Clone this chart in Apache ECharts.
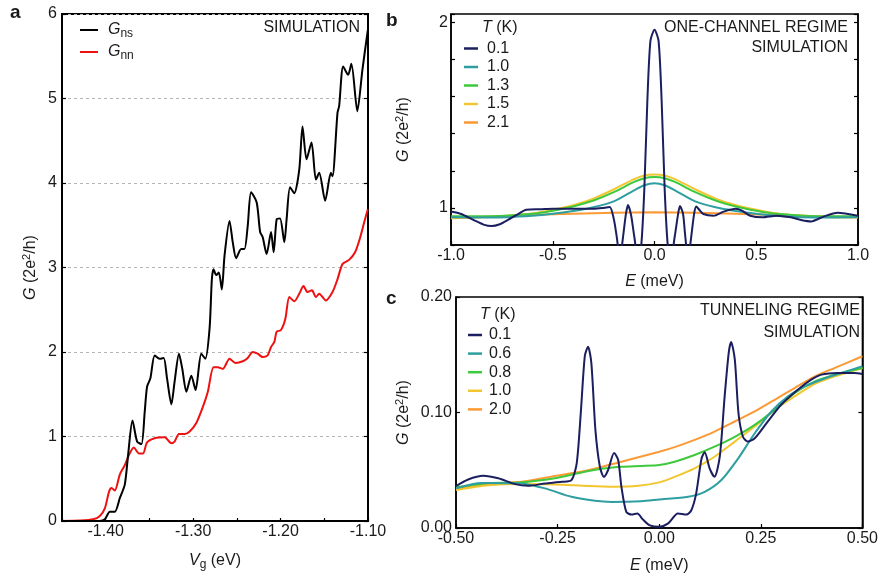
<!DOCTYPE html>
<html>
<head>
<meta charset="utf-8">
<script src="https://cdn.jsdelivr.net/npm/echarts@6/dist/echarts.min.js"></script>
<style>
  html, body { margin: 0; background: #ffffff; }
  #main { width: 881px; height: 576px; }
</style>
</head>
<body>
<div id="main"></div>
<script>
// panel a: G vs Vg (eV)
var gns = [[-1.450,0],[-1.420,0],[-1.407,0],[-1.401,0.02],[-1.3953,0.11],[-1.3896,0.11],[-1.3839,0.27],[-1.3782,0.43],[-1.3744,0.78],[-1.3694,1.19],[-1.3641,0.94],[-1.3591,0.91],[-1.3554,1.29],[-1.3527,1.59],[-1.3489,1.69],[-1.3440,1.96],[-1.3383,1.92],[-1.3337,1.93],[-1.3299,1.69],[-1.3249,1.38],[-1.3212,1.65],[-1.3162,1.98],[-1.3124,1.80],[-1.3078,1.53],[-1.3021,1.72],[-1.2972,1.55],[-1.2907,1.98],[-1.2861,1.92],[-1.2812,2.28],[-1.2786,2.86],[-1.2767,2.98],[-1.2736,2.91],[-1.2706,2.94],[-1.2672,2.74],[-1.2641,3.14],[-1.2584,3.55],[-1.2547,3.30],[-1.2508,3.11],[-1.2451,3.22],[-1.2413,3.22],[-1.2376,3.49],[-1.2337,3.89],[-1.2273,3.77],[-1.2234,3.42],[-1.2205,3.36],[-1.2159,3.16],[-1.2109,3.42],[-1.2079,3.18],[-1.2045,3.57],[-1.2006,3.58],[-1.1957,3.30],[-1.1931,3.57],[-1.1892,3.95],[-1.1843,3.88],[-1.1786,4.16],[-1.1749,4.67],[-1.1703,4.28],[-1.1646,4.48],[-1.1596,4.04],[-1.1558,4.12],[-1.1490,3.79],[-1.1425,4.12],[-1.1406,4.08],[-1.1349,4.83],[-1.1330,4.91],[-1.1284,5.38],[-1.1227,5.28],[-1.1190,5.41],[-1.1122,4.85],[-1.1064,5.34],[-1.1002,5.81]];
var gnn = [[-1.450,0],[-1.4295,0.005],[-1.4143,0.02],[-1.4067,0.06],[-1.401,0.15],[-1.3961,0.35],[-1.3933,0.39],[-1.3896,0.36],[-1.3839,0.55],[-1.3782,0.66],[-1.3725,0.80],[-1.3679,0.87],[-1.3619,0.80],[-1.3573,0.80],[-1.3527,0.93],[-1.3440,0.98],[-1.3326,0.99],[-1.3249,0.92],[-1.3212,0.94],[-1.3162,1.03],[-1.3097,1.03],[-1.3040,1.06],[-1.2964,1.16],[-1.2889,1.35],[-1.2832,1.53],[-1.2767,1.82],[-1.2718,1.82],[-1.2661,1.80],[-1.2584,1.92],[-1.2516,1.87],[-1.2433,1.89],[-1.2376,1.93],[-1.2319,2.00],[-1.2262,1.98],[-1.2205,1.94],[-1.2148,1.96],[-1.2109,2.06],[-1.2071,2.12],[-1.2045,2.24],[-1.1995,2.26],[-1.1946,2.39],[-1.1900,2.65],[-1.1843,2.60],[-1.1786,2.69],[-1.1737,2.78],[-1.1692,2.71],[-1.1641,2.73],[-1.1596,2.65],[-1.1558,2.69],[-1.1482,2.61],[-1.1406,2.71],[-1.1349,2.86],[-1.1292,3.04],[-1.1216,3.09],[-1.1148,3.18],[-1.1094,3.34],[-1.1045,3.53],[-1.1002,3.69]];

// panel b: one-channel regime, G vs E (meV)
var b01 = [[-1.0,0.98],[-0.95,0.967],[-0.89,0.935],[-0.84,0.91],[-0.80,0.902],[-0.76,0.912],[-0.72,0.935],[-0.67,0.967],[-0.63,0.99],[-0.56,0.993],[-0.50,0.996],[-0.40,0.995],[-0.30,0.995],[-0.25,1.0],[-0.22,1.005],[-0.20,0.94],[-0.185,0.84],[-0.17,0.72],[-0.155,0.84],[-0.14,0.97],[-0.13,1.015],[-0.115,0.96],[-0.10,0.85],[-0.08,0.72],[-0.065,0.80],[-0.05,1.10],[-0.035,1.58],[-0.02,1.90],[0.0,1.96],[0.02,1.90],[0.035,1.58],[0.05,1.10],[0.065,0.80],[0.08,0.72],[0.10,0.85],[0.115,0.96],[0.125,1.01],[0.14,0.97],[0.15,0.86],[0.165,0.72],[0.18,0.84],[0.195,0.97],[0.205,1.007],[0.22,0.99],[0.24,0.967],[0.29,0.958],[0.34,0.98],[0.40,0.995],[0.43,0.985],[0.47,0.958],[0.53,0.949],[0.60,0.958],[0.67,0.949],[0.72,0.935],[0.77,0.927],[0.83,0.953],[0.90,0.974],[1.0,0.958]];
var b10 = [[-1.0,0.95],[-0.8,0.948],[-0.6,0.958],[-0.5,0.968],[-0.4,0.983],[-0.3,1.003],[-0.2,1.035],[-0.1,1.095],[-0.05,1.122],[0,1.133],[0.05,1.122],[0.1,1.095],[0.2,1.035],[0.3,1.003],[0.4,0.983],[0.5,0.968],[0.6,0.958],[0.8,0.948],[1.0,0.95]];
var b13 = [[-1.0,0.955],[-0.8,0.955],[-0.6,0.968],[-0.5,0.985],[-0.4,1.008],[-0.3,1.04],[-0.2,1.085],[-0.1,1.14],[-0.05,1.16],[0,1.166],[0.05,1.16],[0.1,1.14],[0.2,1.085],[0.3,1.04],[0.4,1.008],[0.5,0.985],[0.6,0.968],[0.8,0.955],[1.0,0.955]];
var b15 = [[-1.0,0.945],[-0.8,0.952],[-0.6,0.97],[-0.5,0.99],[-0.4,1.015],[-0.3,1.05],[-0.2,1.10],[-0.1,1.155],[-0.05,1.175],[0,1.18],[0.05,1.175],[0.1,1.155],[0.2,1.10],[0.3,1.05],[0.4,1.015],[0.5,0.99],[0.6,0.97],[0.8,0.952],[1.0,0.948]];
var b21 = [[-1.0,0.944],[-0.8,0.953],[-0.6,0.962],[-0.4,0.968],[-0.2,0.974],[0,0.976],[0.2,0.974],[0.4,0.968],[0.6,0.962],[0.8,0.955],[1.0,0.95]];

// panel c: tunneling regime, G vs E (meV)
var c01 = [[-0.5,0.0363],[-0.47,0.042],[-0.433,0.0452],[-0.396,0.043],[-0.355,0.038],[-0.322,0.0365],[-0.281,0.0386],[-0.24,0.040],[-0.216,0.0415],[-0.203,0.056],[-0.193,0.0995],[-0.183,0.149],[-0.175,0.157],[-0.167,0.143],[-0.157,0.085],[-0.146,0.053],[-0.136,0.0443],[-0.126,0.050],[-0.111,0.065],[-0.101,0.0589],[-0.093,0.0357],[-0.081,0.0139],[-0.068,0.0116],[-0.054,0.0125],[-0.040,0.0073],[-0.023,0.0023],[0,0.001],[0.022,0.004],[0.046,0.0125],[0.067,0.0116],[0.079,0.0154],[0.091,0.030],[0.104,0.060],[0.112,0.0656],[0.124,0.0517],[0.136,0.0443],[0.149,0.0617],[0.161,0.114],[0.171,0.1517],[0.177,0.161],[0.186,0.1458],[0.195,0.0995],[0.206,0.079],[0.218,0.0748],[0.235,0.0777],[0.267,0.0922],[0.300,0.1067],[0.341,0.1197],[0.374,0.1284],[0.399,0.1328],[0.439,0.1342],[0.480,0.1342],[0.5,0.1334]];
var c06 = [[-0.5,0.0343],[-0.437,0.039],[-0.339,0.0386],[-0.281,0.0343],[-0.216,0.027],[-0.158,0.0235],[-0.117,0.0226],[-0.044,0.0232],[0,0.0247],[0.071,0.027],[0.112,0.0313],[0.153,0.0415],[0.194,0.060],[0.235,0.082],[0.276,0.1009],[0.317,0.114],[0.358,0.1226],[0.399,0.1284],[0.448,0.1342],[0.5,0.140]];
var c08 = [[-0.5,0.0352],[-0.42,0.039],[-0.34,0.0395],[-0.257,0.043],[-0.208,0.0467],[-0.15,0.0508],[-0.093,0.053],[-0.044,0.0537],[0,0.0545],[0.038,0.0574],[0.087,0.0632],[0.136,0.0704],[0.186,0.079],[0.235,0.0893],[0.284,0.1023],[0.333,0.1168],[0.383,0.127],[0.432,0.1328],[0.5,0.1386]];
var c10 = [[-0.5,0.0328],[-0.42,0.037],[-0.34,0.038],[-0.257,0.0377],[-0.175,0.0363],[-0.109,0.0357],[-0.052,0.0365],[0,0.0395],[0.038,0.0443],[0.087,0.0517],[0.136,0.0617],[0.186,0.0748],[0.235,0.0878],[0.284,0.1023],[0.333,0.1139],[0.383,0.1247],[0.432,0.1313],[0.5,0.1386]];
var c20 = [[-0.5,0.0334],[-0.42,0.038],[-0.339,0.040],[-0.257,0.045],[-0.175,0.050],[-0.093,0.0574],[0,0.066],[0.038,0.070],[0.087,0.0763],[0.136,0.0835],[0.186,0.0922],[0.235,0.1009],[0.284,0.111],[0.333,0.1212],[0.383,0.1313],[0.432,0.1386],[0.5,0.1487]];

var font = 'Liberation Sans, Arial, sans-serif';
var ink = '#1a1a1a';
var navy = '#1b1f5f', teal = '#2e9ea0', green = '#3ec83c', yellow = '#f2c62e', orange = '#fb9a35';

var rich = {
    i: {fontStyle: 'italic', fontSize: 16, fontFamily: font, color: ink, lineHeight: 20},
    n: {fontSize: 16, fontFamily: font, color: ink, lineHeight: 20},
    s: {fontSize: 12, fontFamily: font, color: ink, lineHeight: 20, verticalAlign: 'bottom'},
    p: {fontSize: 11, fontFamily: font, color: ink, lineHeight: 20, verticalAlign: 'top'}
};
var gName = '{i|G}{n| (2e}{p|2}{n|/h)}';

function xAxisCfg(grid, min, max, step, digits, name, gap, width) {
    return {
        type: 'value', gridIndex: grid, position: 'bottom',
        min: min, max: max, interval: step,
        name: name, nameLocation: 'middle', nameGap: gap,
        nameTextStyle: {rich: rich},
        axisLine: {show: true, onZero: false, lineStyle: {color: '#000', width: width}},
        axisTick: {show: true, inside: true, length: 4, lineStyle: {color: '#000', width: 1.2}},
        axisLabel: {
            color: ink, fontSize: 16, fontFamily: font, margin: 3,
            showMinLabel: true, showMaxLabel: true,
            formatter: function (v) { return v.toFixed(digits); }
        },
        splitLine: {show: false}
    };
}

function yAxisCfg(grid, min, max, step, fmt, name, gap, width, margin) {
    return {
        type: 'value', gridIndex: grid, position: 'left',
        min: min, max: max, interval: step,
        name: name, nameLocation: 'middle', nameGap: gap, nameRotate: 90,
        nameTextStyle: {rich: rich},
        axisLine: {show: true, onZero: false, lineStyle: {color: '#000', width: width}},
        axisTick: {show: true, inside: true, length: 4, lineStyle: {color: '#000', width: 1.2}},
        axisLabel: {color: ink, fontSize: 16, fontFamily: font, margin: margin, formatter: fmt},
        splitLine: {show: false}
    };
}

function rightAxis(grid, min, max, step, width) {
    return {
        type: 'value', gridIndex: grid, position: 'right',
        min: min, max: max, interval: step,
        axisLine: {show: true, onZero: false, lineStyle: {color: '#000', width: width}},
        axisTick: {show: true, inside: true, length: 4, lineStyle: {color: '#000', width: 1.2}},
        axisLabel: {show: false},
        splitLine: {show: false}
    };
}

function line(name, data, color, xi, yi) {
    return {
        name: name, type: 'line', data: data, xAxisIndex: xi, yAxisIndex: yi,
        showSymbol: false, symbol: 'none', smooth: 0.25,
        color: color, lineStyle: {color: color, width: 2}
    };
}

var xa = xAxisCfg(0, -1.45, -1.10, 0.05, 2, '{i|V}{s|g}{n| (eV)}', 30, 2);
xa.axisTick.length = 3;
xa.axisLabel.formatter = function (v) {
    return Math.round(v * 100) % 10 === 0 ? v.toFixed(2) : '';
};

var ya = yAxisCfg(0, 0, 6, 1, null, gName, 21, 2, 5);
ya.splitLine = {show: true, lineStyle: {color: '#b4b4b4', type: [3, 3], width: 1}};

var yb = yAxisCfg(1, 0.8, 2.045, 0.2, function (v) {
    if (Math.abs(v - 1) < 1e-6) return '1';
    if (Math.abs(v - 2) < 1e-6) return '2';
    return '';
}, gName, 37, 1.5, 3);

var yc = yAxisCfg(2, 0, 0.2, 0.1, function (v) { return v.toFixed(2); }, gName, 42, 1.5, 4);

function txt(x, y, text, align, size, weight) {
    return {
        type: 'text', x: x, y: y, z: 100,
        style: {
            text: text, fill: ink, fontSize: size, fontFamily: font,
            fontWeight: weight || 'normal', align: align, verticalAlign: 'middle', rich: rich
        }
    };
}

var option = {
    animation: false,
    backgroundColor: '#ffffff',
    textStyle: {fontFamily: font},
    grid: [
        {left: 62, top: 14, width: 306, height: 509, show: true, borderColor: '#000', borderWidth: 2, containLabel: false},
        {left: 451, top: 14, width: 407, height: 231, show: true, borderColor: '#000', borderWidth: 1.5, containLabel: false},
        {left: 456, top: 297, width: 407, height: 231, show: true, borderColor: '#000', borderWidth: 1.5, containLabel: false}
    ],
    xAxis: [
        xa,
        xAxisCfg(1, -1, 1, 0.5, 1, '{i|E}{n| (meV)}', 27, 1.5),
        xAxisCfg(2, -0.5, 0.5, 0.25, 2, '{i|E}{n| (meV)}', 28, 1.5)
    ],
    yAxis: [
        ya, rightAxis(0, 0, 6, 1, 2),
        yb, rightAxis(1, 0.8, 2.045, 0.2, 1.5),
        yc, rightAxis(2, 0, 0.2, 0.1, 1.5)
    ],
    legend: [
        {
            data: ['Gns', 'Gnn'], orient: 'vertical', left: 75, top: 17,
            icon: 'rect', itemWidth: 18, itemHeight: 2, itemGap: 4,
            formatter: function (n) { return n === 'Gns' ? '{i|G}{s|ns}' : '{i|G}{s|nn}'; },
            textStyle: {rich: rich, padding: [0, 0, 0, 5]}
        },
        {
            data: ['b0.1', 'b1.0', 'b1.3', 'b1.5', 'b2.1'], orient: 'vertical', left: 459, top: 35.5,
            icon: 'rect', itemWidth: 14, itemHeight: 2.5, itemGap: 2.5,
            formatter: function (n) { return n.slice(1); },
            textStyle: {color: ink, fontSize: 16, fontFamily: font, lineHeight: 16, padding: [0, 0, 0, 4]}
        },
        {
            data: ['c0.1', 'c0.6', 'c0.8', 'c1.0', 'c2.0'], orient: 'vertical', left: 463, top: 322,
            icon: 'rect', itemWidth: 14, itemHeight: 2.5, itemGap: 2.6,
            formatter: function (n) { return n.slice(1); },
            textStyle: {color: ink, fontSize: 16, fontFamily: font, lineHeight: 16, padding: [0, 0, 0, 2]}
        }
    ],
    graphic: [
        txt(10, 13, 'a', 'left', 19, 'bold'),
        txt(386, 21, 'b', 'left', 19, 'bold'),
        txt(386, 299, 'c', 'left', 19, 'bold'),
        txt(360, 28, 'SIMULATION', 'right', 16),
        txt(848, 28, 'ONE-CHANNEL REGIME', 'right', 16),
        txt(848, 47.5, 'SIMULATION', 'right', 16),
        txt(860, 311, 'TUNNELING REGIME', 'right', 16),
        txt(860, 332.5, 'SIMULATION', 'right', 16),
        txt(482, 28, '{i|T}{n| (K)}', 'left', 16),
        txt(480, 315, '{i|T}{n| (K)}', 'left', 16)
    ],
    series: [
        line('Gnn', gnn, '#ee1111', 0, 0),
        line('Gns', gns, '#000000', 0, 0),
        line('b2.1', b21, orange, 1, 2),
        line('b1.5', b15, yellow, 1, 2),
        line('b1.3', b13, green, 1, 2),
        line('b1.0', b10, teal, 1, 2),
        line('b0.1', b01, navy, 1, 2),
        line('c2.0', c20, orange, 2, 4),
        line('c1.0', c10, yellow, 2, 4),
        line('c0.8', c08, green, 2, 4),
        line('c0.6', c06, teal, 2, 4),
        line('c0.1', c01, navy, 2, 4)
    ]
};

var myChart = echarts.init(document.getElementById('main'));
myChart.setOption(option);
</script>
</body>
</html>
